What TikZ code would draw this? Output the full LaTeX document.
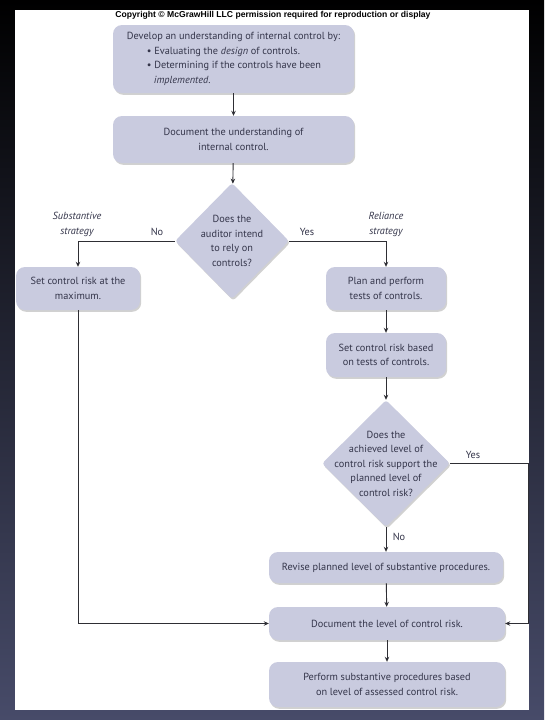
\documentclass[tikz,border=0pt]{standalone}
\usepackage{fontspec}
\setmainfont{PT Sans}
\newfontfamily\copyfont{Liberation Sans}
\usetikzlibrary{arrows.meta,shapes.geometric,shadows}
\definecolor{boxfill}{HTML}{C9CBDF}
\definecolor{ink}{HTML}{34354A}
\definecolor{wire}{HTML}{2E2E34}
\definecolor{bgtop}{HTML}{000000}
\definecolor{bgbot}{HTML}{474B69}
\tikzset{
  box/.style={fill=boxfill, rounded corners=9pt, text=ink, align=center, inner sep=2pt,
    font=\fontsize{10.3}{14.5}\selectfont,
    drop shadow={shadow xshift=1.2pt, shadow yshift=-1.8pt, fill=black, opacity=0.18}},
  ask/.style={diamond, fill=boxfill, rounded corners=3pt, inner sep=0pt,
    drop shadow={shadow xshift=1.2pt, shadow yshift=-1.8pt, fill=black, opacity=0.18}},
  flow/.style={draw=wire, line width=0.9pt, -{Stealth[length=5pt,width=4.5pt]}},
  lab/.style={text=ink, font=\fontsize{10.3}{14.5}\selectfont},
  labc/.style={lab, align=center},
  labi/.style={lab, align=center, font=\fontsize{10.3}{14.5}\selectfont\itshape},
}

\begin{document}
\begin{tikzpicture}[x=1pt,y=-1pt]
  \useasboundingbox (0,0) rectangle (544,720);
  \fill[top color=bgtop, bottom color=bgbot] (0,0) rectangle (544,720);
  \fill[white] (15,10) rectangle (529,710);

  \node[text=black, font=\copyfont\fontsize{8.6}{9}\selectfont\bfseries] (copy) at (273,15)
    {Copyright © McGrawHill LLC permission required for reproduction or display};

  % left column and top
  \node[box, align=left, minimum width=241pt, minimum height=68pt] (dev) at (233.5,59)
    {Develop an understanding of internal control by:\\
     \hspace*{20pt}\textbullet\ Evaluating the \textit{design} of controls.\\
     \hspace*{20pt}\textbullet\ Determining if the controls have been\\
     \hspace*{27pt}\textit{implemented}.};
  \node[box, minimum width=241pt, minimum height=47pt] (docu) at (233.5,139.5)
    {Document the understanding of\\internal control.};
  \node[ask, minimum width=114pt, minimum height=116pt,
    label={[labc]center:{Does the\\auditor intend\\to rely on\\controls?}}] (rely) at (232,241) {};
  \node[box, minimum width=124pt, minimum height=43pt] (maxr) at (78,288.5)
    {Set control risk at the\\maximum.};

  % reliance path
  \node[box, minimum width=120pt, minimum height=43pt] (plan) at (386,288.5)
    {Plan and perform\\tests of controls.};
  \node[box, minimum width=120pt, minimum height=44pt] (setb) at (386,355)
    {Set control risk based\\on tests of controls.};
  \node[ask, minimum width=128pt, minimum height=127pt,
    label={[labc]center:{Does the\\achieved level of\\control risk support the\\planned level of\\control risk?}}] (meet) at (386,463.5) {};
  \node[box, minimum width=234pt, minimum height=31pt] (revi) at (386,567.5)
    {Revise planned level of substantive procedures.};
  \node[box, minimum width=236pt, minimum height=33pt] (doclev) at (387,623.5)
    {Document the level of control risk.};
  \node[box, minimum width=236pt, minimum height=45pt] (perf) at (387,684.5)
    {Perform substantive procedures based\\on level of assessed control risk.};

  \node[labi] (subst) at (77,224.5) {Substantive\\strategy};
  \node[labi] (relia) at (386,224.5) {Reliance\\strategy};
  \node[lab] (no1) at (157,232) {No};
  \node[lab] (yes1) at (307,232) {Yes};
  \node[lab] (yes2) at (473,455) {Yes};
  \node[lab] (no2) at (399,537) {No};
  \coordinate (rgt) at (528,463.5);

  \draw[flow] (dev) -- (docu);
  \draw[flow] (docu) -- (rely);
  \draw[flow] (rely.west) -| (maxr.north);
  \draw[flow] (rely.east) -| (plan.north);
  \draw[flow] (plan) -- (setb);
  \draw[flow] (setb) -- (meet);
  \draw[flow] (meet) -- (revi);
  \draw[flow] (revi) -- (doclev);
  \draw[flow] (doclev) -- (perf);
  \draw[flow] (maxr.south) |- (doclev.west);
  \draw[flow] (meet.east) -- (rgt) |- (doclev.east);
\end{tikzpicture}
\end{document}
